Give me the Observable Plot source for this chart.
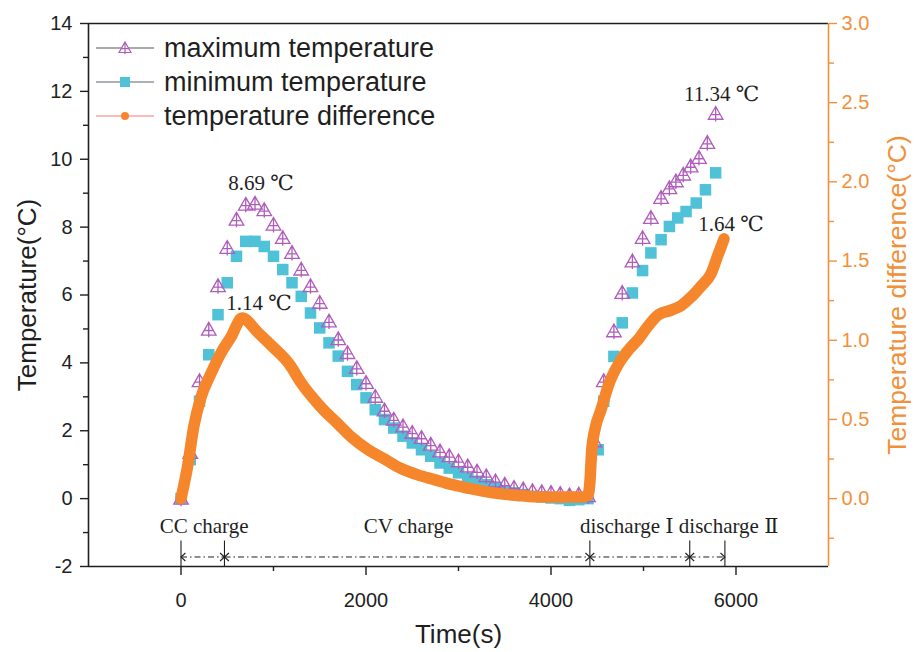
<!DOCTYPE html>
<html>
<head>
<meta charset="utf-8">
<script src="https://cdn.jsdelivr.net/npm/d3@7"></script>
<script src="https://cdn.jsdelivr.net/npm/@observablehq/plot@0.6"></script>
<style>
  body { margin: 0; background: #fff; }
  #chart { position: relative; width: 916px; height: 652px; }
  #chart svg { display: block; }
  #legend { position: absolute; left: 0; top: 0; pointer-events: none; }
</style>
</head>
<body>
<div id="chart"></div>
<script>
// Maximum cell temperature rise (°C) against time (s)
const timeMax = [0,100,200,300,400,500,600,700,800,900,1000,1100,1200,1300,1400,1500,1600,1700,1800,1900,
  2000,2100,2200,2300,2400,2500,2600,2700,2800,2900,3000,3100,3200,3300,3400,3500,3600,3700,3800,3900,
  4000,4100,4200,4300,4400,
  4470,4570,4680,4770,4880,4990,5080,5190,5280,5350,5430,5510,5600,5690,5780];
const tempMax = [0,1.35,3.46,4.98,6.26,7.39,8.22,8.66,8.69,8.5,8.07,7.68,7.24,6.75,6.26,5.77,5.22,4.7,4.29,3.85,
  3.41,3.0,2.6,2.33,2.13,1.94,1.79,1.59,1.39,1.25,1.1,0.95,0.8,0.66,0.51,0.41,0.32,0.27,0.22,0.19,
  0.17,0.14,0.1,0.12,0.07,
  1.69,3.46,4.93,6.06,6.99,7.68,8.27,8.86,9.15,9.35,9.55,9.79,10.04,10.48,11.34];

// Minimum cell temperature rise (°C)
const timeMin = [0,100,200,300,400,500,600,700,800,900,1000,1100,1200,1300,1400,1500,1600,1700,1800,1900,
  2000,2100,2200,2300,2400,2500,2600,2700,2800,2900,3000,3100,3200,3300,3400,3500,3600,3700,3800,3900,
  4000,4100,4200,4300,4400,
  4510,4570,4680,4770,4880,4990,5080,5190,5280,5370,5460,5570,5670,5780];
const tempMin = [0,1.15,2.87,4.24,5.42,6.36,7.14,7.58,7.58,7.43,7.14,6.75,6.36,5.96,5.47,5.03,4.59,4.2,3.75,3.36,
  2.97,2.62,2.33,2.08,1.84,1.64,1.44,1.25,1.05,0.9,0.76,0.61,0.51,0.41,0.32,0.22,0.17,0.12,0.07,0.05,
  0.02,0.0,-0.05,-0.03,0.0,
  1.44,2.87,4.19,5.18,6.06,6.72,7.24,7.63,8.02,8.27,8.46,8.71,9.1,9.6];

// Temperature difference (°C), right-hand axis
const timeDiff = [0,70,140,216,324,432,540,660,830,990,1170,1300,1510,1700,1840,2020,2200,2380,2560,2740,
  2920,3100,3280,3460,3640,3820,4000,4180,4330,4400,4420,4440,4480,4540,4630,4730,4840,4950,5050,5160,
  5300,5410,5510,5620,5730,5800,5870];
const tempDiff = [0,0.2,0.46,0.64,0.79,0.92,1.02,1.14,1.05,0.96,0.85,0.73,0.58,0.47,0.39,0.31,0.25,0.19,0.15,0.12,
  0.09,0.067,0.046,0.03,0.02,0.012,0.01,0.01,0.01,0.02,0.1,0.3,0.45,0.56,0.73,0.85,0.94,1.01,1.09,1.16,
  1.19,1.22,1.27,1.34,1.42,1.53,1.64];

// Test phases: boundaries (s) and names
const phaseBounds = [0, 470, 4420, 5500, 5880];
const phaseNames = ["CC charge", "CV charge", "discharge Ⅰ", "discharge Ⅱ"];
const phaseLabelTime = [250, 2460, 4820, 5920];

// Annotated extreme values
const peakMax = [{t: 800, v: 8.69}, {t: 5780, v: 11.34}];
const peakDiffCharge = {t: 660, v: 1.14};
const peakDiffDischarge = {t: 5870, v: 1.64};

// Axis ticks
const xMajor = [0, 2000, 4000, 6000];
const xMinor = [1000, 3000, 5000];
const yMajor = [-2, 0, 2, 4, 6, 8, 10, 12, 14];
const yMinor = [-1, 1, 3, 5, 7, 9, 11, 13];
const diffMajor = [0, 0.5, 1, 1.5, 2, 2.5, 3];
const diffMinor = [-0.25, 0.25, 0.75, 1.25, 1.75, 2.25, 2.75];

// Right axis [-3/7, 3] shares the frame with left axis [-2, 14]
const DIFF_SCALE = 14 / 3;
const toLeft = (d) => d * DIFF_SCALE;

const maxData = timeMax.map((t, i) => ({t, v: tempMax[i]}));
const minData = timeMin.map((t, i) => ({t, v: tempMin[i]}));
const diffData = timeDiff.map((t, i) => ({t, v: toLeft(tempDiff[i])}));
const segments = phaseBounds.slice(0, -1).map((b, i) => ({x1: b, x2: phaseBounds[i + 1]}));
const phaseText = phaseNames.map((name, i) => ({name, t: phaseLabelTime[i]}));
const degLabel = (d) => `${d.v.toFixed(2)} ℃`;

const INK = "#1f1f1f";
const PURPLE = "#b05cbc";
const CYAN = "#4fc2d8";
const ORANGE = "#f5862b";
const AXIS_ORANGE = "#f0913a";
const SANS = "'Liberation Sans', Arial, sans-serif";
const SERIF = "'Liberation Serif', 'Times New Roman', 'DejaVu Serif', 'Noto Sans CJK SC', serif";

// Triangle with an inner cross, drawn as a stroked symbol
const triCross = {
  draw(ctx, size) {
    const r = Math.sqrt(size / Math.PI);
    const h = r * 1.3, w = r * 1.3;
    ctx.moveTo(0, -h);
    ctx.lineTo(w, h * 0.75);
    ctx.lineTo(-w, h * 0.75);
    ctx.closePath();
    ctx.moveTo(0, -h);
    ctx.lineTo(0, h * 1.05);
    ctx.moveTo(-w * 0.7, h * 0.12);
    ctx.lineTo(w * 0.7, h * 0.12);
  }
};
const chevronLeft = {
  draw(ctx, size) {
    const s = Math.sqrt(size / Math.PI);
    ctx.moveTo(s * 1.1, -s);
    ctx.lineTo(0, 0);
    ctx.lineTo(s * 1.1, s);
  }
};
const chevronRight = {
  draw(ctx, size) {
    const s = Math.sqrt(size / Math.PI);
    ctx.moveTo(-s * 1.1, -s);
    ctx.lineTo(0, 0);
    ctx.lineTo(-s * 1.1, s);
  }
};

const ARROW_Y = -1.72;
const plain = (d) => String(d);

const chart = Plot.plot({
  width: 916,
  height: 652,
  marginLeft: 88,
  marginRight: 88,
  marginTop: 23,
  marginBottom: 86,
  x: {domain: [-1000, 7000], label: null},
  y: {domain: [-2, 14], label: null},
  style: {fontFamily: SANS, background: "white", color: INK},
  marks: [
    // bottom axis
    Plot.axisX(xMajor, {anchor: "bottom", tickSize: 9, tickPadding: 17, fontSize: 20, label: null,
      strokeWidth: 1.4, tickFormat: plain}),
    Plot.axisX(xMinor, {anchor: "bottom", tickSize: 5, tickFormat: () => "", label: null, strokeWidth: 1.4}),
    // left axis
    Plot.axisY(yMajor, {anchor: "left", tickSize: 8, tickPadding: 8, fontSize: 20, label: null,
      strokeWidth: 1.4, tickFormat: plain}),
    Plot.axisY(yMinor, {anchor: "left", tickSize: 5, tickFormat: () => "", label: null, strokeWidth: 1.4}),
    // right axis (temperature difference)
    Plot.axisY(diffMajor.map(toLeft), {anchor: "right", tickSize: 8, tickPadding: 5, fontSize: 20, label: null,
      color: AXIS_ORANGE, strokeWidth: 1.4, tickFormat: (v) => (v / DIFF_SCALE).toFixed(1)}),
    Plot.axisY(diffMinor.map(toLeft), {anchor: "right", tickSize: 5, tickFormat: () => "", label: null,
      color: AXIS_ORANGE, strokeWidth: 1.4}),
    // frame
    Plot.ruleY([14], {stroke: INK, strokeWidth: 1.6}),
    Plot.ruleY([-2], {stroke: INK, strokeWidth: 1.6}),
    Plot.ruleX([-1000], {stroke: INK, strokeWidth: 1.6}),
    Plot.ruleX([7000], {stroke: AXIS_ORANGE, strokeWidth: 1.6}),
    // axis titles
    Plot.text(["Temperature(°C)"], {frameAnchor: "left", dx: -61, rotate: -90, textAnchor: "middle",
      fontSize: 26, fill: INK}),
    Plot.text(["Temperature difference(°C)"], {frameAnchor: "right", dx: 69, rotate: -90, textAnchor: "middle",
      fontSize: 26.5, fill: AXIS_ORANGE}),
    Plot.text(["Time(s)"], {frameAnchor: "bottom", dy: 76, fontSize: 26, fill: INK}),
    // series
    Plot.dot(minData, {x: "t", y: "v", symbol: "square", r: 6.5, fill: CYAN}),
    Plot.dot(maxData, {x: "t", y: "v", symbol: triCross, r: 5.6, stroke: PURPLE, fill: "none", strokeWidth: 1.3}),
    Plot.line(diffData, {x: "t", y: "v", stroke: ORANGE, strokeWidth: 11.5, curve: "monotone-x",
      strokeLinecap: "round", strokeLinejoin: "round"}),
    // value annotations
    Plot.text(peakMax, {x: "t", y: "v", text: degLabel, dx: 6, dy: -20,
      fontFamily: SERIF, fontSize: 21, fill: INK}),
    Plot.text([peakDiffCharge], {x: "t", y: (d) => toLeft(d.v), text: degLabel, dx: 17, dy: -15,
      fontFamily: SERIF, fontSize: 21, fill: INK}),
    Plot.text([peakDiffDischarge], {x: "t", y: (d) => toLeft(d.v), text: degLabel, dx: 7, dy: -15,
      fontFamily: SERIF, fontSize: 21, fill: INK}),
    // phase markers
    Plot.ruleX(phaseBounds, {y1: -2, y2: -1.25, stroke: INK, strokeWidth: 1.1}),
    Plot.link(segments, {x1: "x1", x2: "x2", y1: ARROW_Y, y2: ARROW_Y, stroke: INK, strokeWidth: 1,
      strokeDasharray: "6,3,1.5,3"}),
    Plot.dot(phaseBounds.slice(0, -1), {x: (d) => d, y: ARROW_Y, symbol: chevronLeft, r: 4, stroke: INK, fill: "none", strokeWidth: 1.1}),
    Plot.dot(phaseBounds.slice(1), {x: (d) => d, y: ARROW_Y, symbol: chevronRight, r: 4, stroke: INK, fill: "none", strokeWidth: 1.1}),
    Plot.text(phaseText, {x: "t", y: -0.82, text: "name", fontFamily: SERIF, fontSize: 21, fill: INK})
  ]
});

const host = document.getElementById("chart");
host.appendChild(chart);

// Legend: line sample with the series symbol, then the series name
const legendItems = [
  {name: "maximum temperature", line: "#555", kind: "tri"},
  {name: "minimum temperature", line: "#5b6470", kind: "square"},
  {name: "temperature difference", line: "#f27a7a", kind: "circle"}
];
const legend = d3.select(host).append("svg")
  .attr("id", "legend").attr("width", 916).attr("height", 652);
const rows = legend.selectAll("g").data(legendItems).join("g")
  .attr("transform", (d, i) => `translate(0,${48 + i * 34})`);
rows.append("line").attr("x1", 96).attr("x2", 154).attr("y1", 0).attr("y2", 0)
  .attr("stroke", (d) => d.line).attr("stroke-width", 1.2);
rows.filter((d) => d.kind === "tri").append("path")
  .attr("transform", "translate(125,0)")
  .attr("d", d3.symbol(triCross, Math.PI * 4.6 * 4.6))
  .attr("fill", "white").attr("stroke", PURPLE).attr("stroke-width", 1.2);
rows.filter((d) => d.kind === "square").append("rect")
  .attr("x", 120).attr("y", -5).attr("width", 10).attr("height", 10).attr("fill", CYAN);
rows.filter((d) => d.kind === "circle").append("circle")
  .attr("cx", 125).attr("cy", 0).attr("r", 4).attr("fill", ORANGE);
rows.append("text").attr("x", 164).attr("y", 0).attr("dy", "0.35em")
  .attr("font-family", SANS).attr("font-size", 27).attr("fill", INK)
  .text((d) => d.name);
</script>
</body>
</html>
